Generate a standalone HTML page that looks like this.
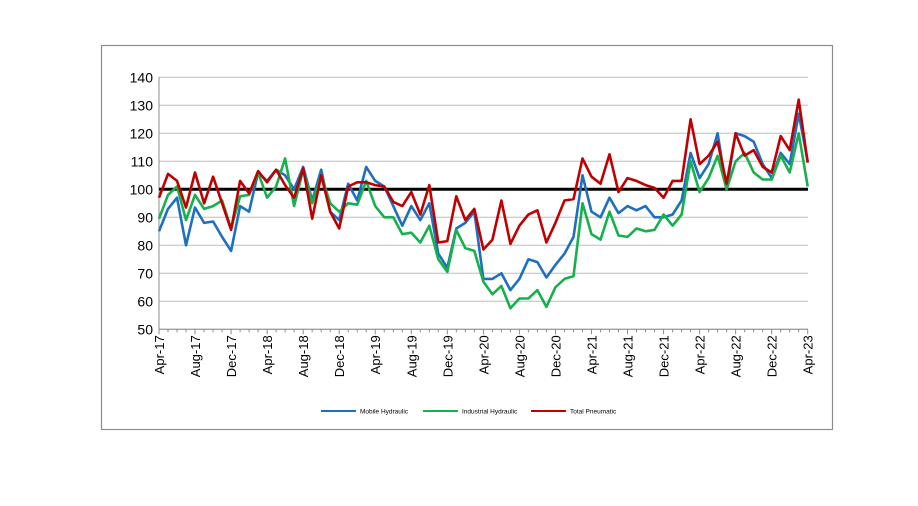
<!DOCTYPE html>
<html><head><meta charset="utf-8"><style>
html,body{margin:0;padding:0;background:#fff;}
svg{display:block;font-family:"Liberation Sans",sans-serif;}
</style></head><body>
<svg id="c" width="918" height="506" xmlns="http://www.w3.org/2000/svg">
<rect x="101.5" y="45.5" width="731" height="384" fill="#fff" stroke="#8c8c8c" stroke-width="1.2"/>
<g id="g"></g>
</svg>
<script>
const B=[85,93,97,80,93.5,88,88.5,83,78,94,92,106,103,107,105,100,108,96,107,92,89,102,96,108,103,101,94,87,94,89,95,77,72,86,88,92,68,68,70,64,68,75,74,68.5,73,77,83,105,92,90,97,91.5,94,92.5,94,90,90,91,96,113,104,109,120,100,120,119,117,109,104,113,109,127,110];
const G=[89.5,98,101,89,98,93,94,96,86,97.5,98,106,97,101,111,94,107,95,105,95,92,95,94.5,103,94,90,90,84,84.5,81,87,75,70.5,85.5,79,78,67,62.5,65.5,57.5,61,61,64,58,65,68,69,95,84,82,92,83.5,83,86,85,85.5,91,87,91,110,99,104,112,100,110,113,106,103.5,103.5,112,106,120,101];
const R=[97,105.5,103,93.5,106,95,104.5,95,85.5,103,98.5,106.5,102.5,107,101.5,97,107.5,89.5,105,92,86,101,102.5,102.5,101.5,101,95.5,94,99,91,101.5,81,81.5,97.5,89,93,78.5,82,96,80.5,87,91,92.5,81,88,96,96.5,111,104.5,102,112.5,99,104,103,101.5,100.5,97,103,103,125,109,112,117,102,120,112,114,108,106,119,114,132,109.5];
const x0=159,dx=9.01,y=v=>189.3-(v-100)*2.8;
let s='';
for(let v=50;v<=140;v+=10){const yy=y(v);
 s+=`<line x1="${x0}" x2="808" y1="${yy}" y2="${yy}" stroke="#bdbdbd" stroke-width="1"/>`;
 s+=`<text x="${x0-6}" y="${yy+5}" font-size="14" text-anchor="end" fill="#000">${v}</text>`;}
s+=`<line x1="${x0}" x2="${x0}" y1="${y(140)}" y2="${y(50)}" stroke="#8c8c8c"/>`;
s+=`<line x1="${x0}" x2="808" y1="${y(50)}" y2="${y(50)}" stroke="#8c8c8c"/>`;
const mon=['Apr','Aug','Dec'];
for(let i=0;i<73;i++){const xx=x0+i*dx;
 s+=`<line x1="${xx}" x2="${xx}" y1="${y(50)}" y2="${y(50)+(i%4==0?5:3)}" stroke="#8c8c8c"/>`;
 if(i%4==0){const yr=17+Math.floor((i+3)/12);const m=mon[(i/4)%3];
  s+=`<text transform="translate(${xx+5},${y(50)+6}) rotate(-90)" font-size="13" text-anchor="end" fill="#000">${m}-${yr}</text>`;}}
s+=`<line x1="${x0}" x2="808" y1="${y(100)}" y2="${y(100)}" stroke="#000" stroke-width="3"/>`;
const pl=(d,c)=>`<polyline fill="none" stroke="${c}" stroke-width="2.6" stroke-linejoin="round" points="${d.map((v,i)=>(x0+i*dx).toFixed(1)+','+y(v).toFixed(1)).join(' ')}"/>`;
s+=pl(B,'#1f6fc0')+pl(G,'#16b04d')+pl(R,'#c00000');
const lg=[[321,'#1f6fc0','Mobile Hydraulic'],[423,'#16b04d','Industrial Hydraulic'],[531,'#c00000','Total Pneumatic']];
lg.forEach(([lx,c,t])=>{s+=`<line x1="${lx}" x2="${lx+35}" y1="411" y2="411" stroke="${c}" stroke-width="2"/><text x="${lx+39}" y="413.5" font-size="6.5" fill="#000">${t}</text>`;});
document.getElementById('g').innerHTML=s;
</script>
</body></html>
